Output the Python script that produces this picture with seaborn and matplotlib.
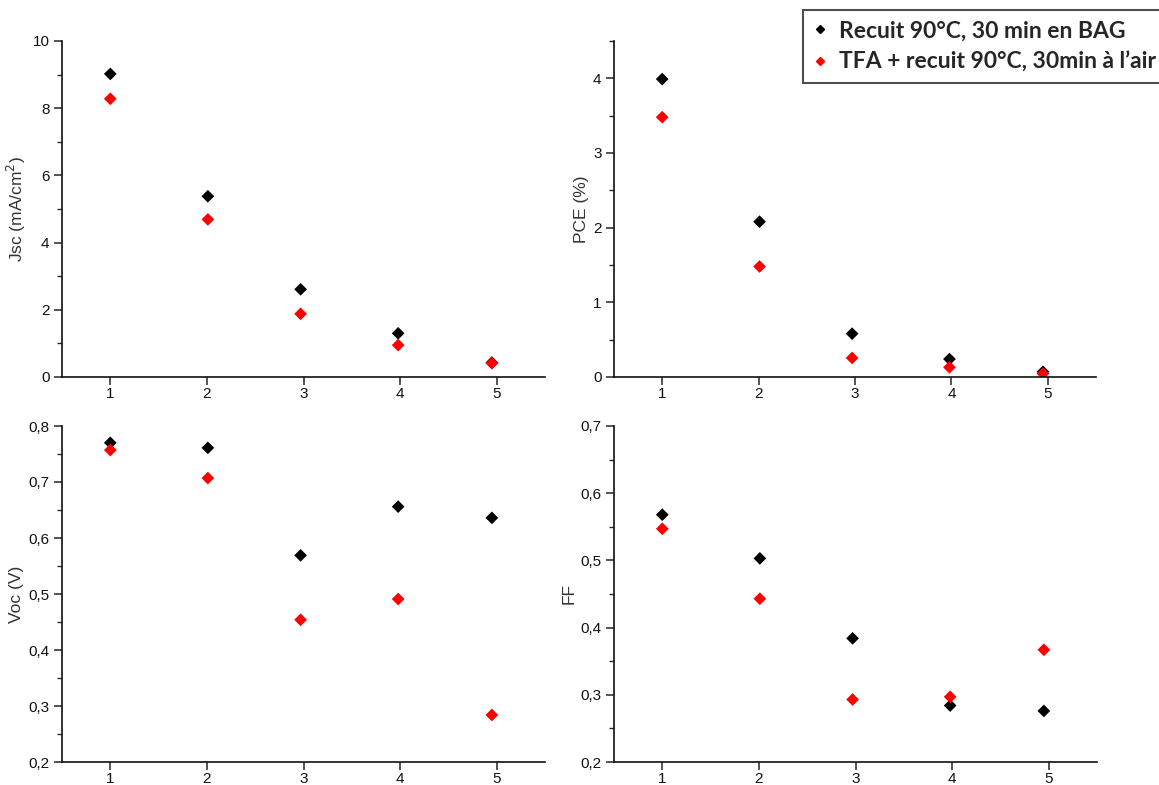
import pandas as pd
import seaborn as sns
import matplotlib.pyplot as plt
from matplotlib.ticker import MultipleLocator, FuncFormatter

# sample index (points are slightly off the integer ticks in the original)
x_pos = [1.0, 2.01, 2.97, 3.98, 4.95]

labels = ["Recuit 90°C, 30 min en BAG", "TFA + recuit 90°C, 30min à l\u2019air"]

# values
jsc_bag = [9.02, 5.38, 2.61, 1.30, 0.43]
jsc_tfa = [8.28, 4.69, 1.88, 0.95, 0.41]
pce_bag = [3.99, 2.08, 0.58, 0.24, 0.07]
pce_tfa = [3.48, 1.48, 0.255, 0.13, 0.045]
voc_bag = [0.770, 0.761, 0.569, 0.656, 0.636]
voc_tfa = [0.757, 0.707, 0.454, 0.491, 0.284]
ff_bag = [0.568, 0.503, 0.384, 0.284, 0.276]
ff_tfa = [0.547, 0.443, 0.293, 0.297, 0.367]


def long_df(bag, tfa):
    return pd.DataFrame({
        "x": x_pos + x_pos,
        "y": bag + tfa,
        "cond": [labels[0]] * 5 + [labels[1]] * 5,
    })


sns.set_style("ticks")
plt.rcParams["font.family"] = ["Liberation Sans", "DejaVu Sans"]

fig = plt.figure(figsize=(11.59, 7.85), dpi=100)

W, H = 1159, 785


def box(l, r, t, b):
    return [l / W, 1 - b / H, (r - l) / W, (b - t) / H]


panels = [
    (box(62, 545, 41, 377), jsc_bag, jsc_tfa, "Jsc (mA/cm$^2$)", (0, 10), 2, 1, False),
    (box(614, 1096, 41, 377), pce_bag, pce_tfa, "PCE (%)", (0, 4.5), 1, 0.5, False),
    (box(62, 545, 426, 762), voc_bag, voc_tfa, "Voc (V)", (0.2, 0.8), 0.1, 0.05, True),
    (box(614, 1097, 426, 762), ff_bag, ff_tfa, "FF", (0.2, 0.7), 0.1, 0.05, True),
]

comma = FuncFormatter(lambda v, p: ("%.1f" % v).replace(".", ","))

for rect, bag, tfa, ylab, ylim, major, minor, use_comma in panels:
    ax = fig.add_axes(rect)
    sns.scatterplot(data=long_df(bag, tfa), x="x", y="y", hue="cond",
                    palette=["black", "red"], marker="D", s=42,
                    edgecolor="none", legend=False, ax=ax)
    ax.set_xlim(0.5, 5.5)
    ax.set_ylim(*ylim)
    ax.set_xticks([1, 2, 3, 4, 5])
    ax.yaxis.set_major_locator(MultipleLocator(major))
    ax.yaxis.set_minor_locator(MultipleLocator(minor))
    if use_comma:
        ax.yaxis.set_major_formatter(comma)
    ax.set_xlabel("")
    ax.set_ylabel(ylab, fontsize=12.5, color="#333333", labelpad=3)
    ax.tick_params(which="major", length=6, width=1.1, labelsize=11,
                   labelcolor="#111111", direction="out", pad=3)
    ax.tick_params(axis="x", which="major", pad=1.5)
    ax.tick_params(which="minor", length=3.5, width=1.0, direction="out")
    ax.tick_params(axis="x", which="minor", length=0)
    sns.despine(ax=ax)
    for s in ["left", "bottom"]:
        ax.spines[s].set_linewidth(1.2)
        ax.spines[s].set_color("#111111")

handles = [
    plt.Line2D([], [], marker="D", color="black", linestyle="none", markersize=4.5),
    plt.Line2D([], [], marker="D", color="red", linestyle="none", markersize=4.5),
]
leg = fig.legend(handles, labels, loc="upper left",
                 bbox_to_anchor=(803 / W, 1 - 10 / H),
                 prop={"family": "Lato", "weight": "bold", "size": 16.5},
                 frameon=True, fancybox=False, edgecolor="#222222",
                 handlelength=0.6, handletextpad=0.5, borderpad=0.45,
                 labelspacing=0.45, borderaxespad=0)
leg.get_frame().set_linewidth(1.5)

fig.savefig("out.png", dpi=100)
